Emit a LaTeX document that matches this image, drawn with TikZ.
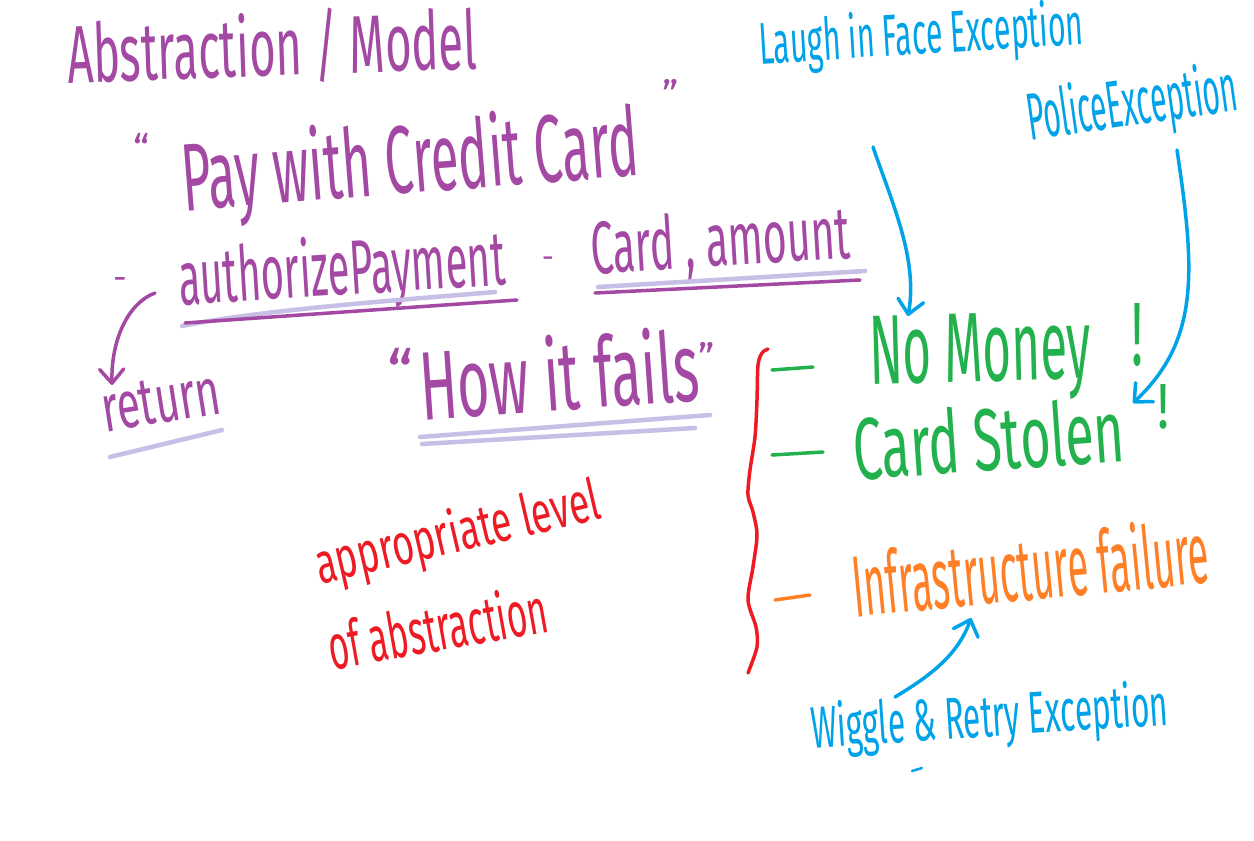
\documentclass[tikz,border=0pt]{standalone}
\usepackage{fontspec}
\setmainfont{Fira Sans}
\usepackage{graphicx}
\usetikzlibrary{arrows.meta}
\definecolor{ppurple}{HTML}{A349A4}
\definecolor{plav}{HTML}{C8BFE7}
\definecolor{pgreen}{HTML}{22B14C}
\definecolor{pred}{HTML}{ED1C24}
\definecolor{porange}{HTML}{FF7F27}
\definecolor{pblue}{HTML}{00A2E8}
\newcommand{\hwfit}[3]{\resizebox{#1pt}{#2pt}{#3}}
\tikzset{
  hw/.style={inner sep=0pt, outer sep=0pt, anchor=base west},
  qmark/.style={inner sep=0pt, outer sep=0pt, anchor=north},
  pen/.style={line width=3.5pt, line cap=round, line join=round},
  hl/.style={line width=4.5pt, line cap=round, draw=plav},
  barb/.style={-{Straight Barb[length=14pt,width=26pt,round]}}
}
\begin{document}
\begin{tikzpicture}[x=1pt,y=-1pt]
\fill[white] (0,0) rectangle (1254,841);
\useasboundingbox (0,0) rectangle (1254,841);

% ---------- purple: abstraction ----------
\node[hw, text=ppurple, rotate=2] (title) at (68,83) {\hwfit{410}{66}{Abstraction / Model}};

\node[qmark, text=ppurple, font=\fontsize{40}{40}\selectfont] (q1) at (142,133) {“};
\node[hw, text=ppurple, rotate=4.5] (pay) at (184,211) {\hwfit{458}{75}{Pay with Credit Card}};
\node[qmark, text=ppurple, font=\fontsize{40}{40}\selectfont] (q2) at (671,79) {”};

\node[text=ppurple, font=\fontsize{34}{34}\selectfont, inner sep=0pt] (dash1) at (120,284) {-};
\node[hw, text=ppurple, rotate=3.5] (auth) at (180,305) {\hwfit{327}{60}{authorizePayment}};
\node[text=ppurple, font=\fontsize{30}{30}\selectfont, inner sep=0pt] (dash2) at (548,262) {-};
\node[hw, text=ppurple, rotate=3.5] (cardamt) at (592,274) {\hwfit{260}{56}{Card , amount}};

\draw[hl] (182,326) .. controls (260,310) and (400,300) .. (495,292);
\draw[pen, ppurple] (185,323) -- (517,300);
\draw[hl] (598,287) -- (865,271);
\draw[pen, ppurple] (595,293) -- (860,280);

\coordinate (retfrom) at (155,293);
\coordinate (retto) at (112,385);
\draw[pen, ppurple, -{Straight Barb[length=14pt,width=24pt,round]}] (retfrom) .. controls (128,303) and (111,340) .. (retto);

\node[hw, text=ppurple, rotate=9] (ret) at (105,432) {\hwfit{120}{44}{return}};
\draw[hl] (110,457) -- (222,430);

\node[qmark, text=ppurple, font=\fontsize{64}{64}\selectfont] (q3) at (400,348) {“};
\node[hw, text=ppurple, rotate=4] (how) at (422,420) {\hwfit{280}{76}{How it fails}};
\node[qmark, text=ppurple, font=\fontsize{40}{40}\selectfont] (q4) at (707,342) {”};
\draw[hl] (420,437) -- (710,415);
\draw[hl] (422,444) -- (695,428);

% ---------- red ----------
\node[hw, text=pred, rotate=13] (appr) at (320,584) {\hwfit{291}{45}{appropriate level}};
\node[hw, text=pred, rotate=10] (abst) at (332,670) {\hwfit{222}{50}{of abstraction}};

\draw[pen, pred] plot[smooth] coordinates {(768,349) (762,353) (758,365) (757,400) (755,437) (750,470) (748,495) (753,512) (757,535) (753,567) (748,600) (756,627) (757,647) (748,673)};

% ---------- green ----------
\draw[pen, pgreen] (772,370) -- (813,367);
\draw[pen, pgreen] (772,455) -- (823,452);
\node[hw, text=pgreen, rotate=1.5] (nomoney) at (870,384) {\hwfit{222}{68}{No Money}};
\node[hw, text=pgreen] (ex1) at (1131,365) {\hwfit{12}{62}{!}};
\node[hw, text=pgreen, rotate=4] (stolen) at (855,480) {\hwfit{272}{66}{Card Stolen}};
\node[hw, text=pgreen] (ex2) at (1157,428) {\hwfit{12}{44}{!}};

% ---------- orange ----------
\draw[pen, porange] (775,600) -- (810,595);
\node[hw, text=porange, rotate=5.5] (infra) at (855,617) {\hwfit{358}{68}{Infrastructure failure}};

% ---------- blue ----------
\node[hw, text=pblue, rotate=3.5] (laugh) at (760,64) {\hwfit{325}{46}{Laugh in Face Exception}};
\node[hw, text=pblue, rotate=8] (police) at (1030,140) {\hwfit{212}{52}{PoliceException}};
\node[hw, text=pblue, rotate=3.7] (wiggle) at (812,748) {\hwfit{358}{46}{Wiggle \& Retry Exception}};

\coordinate (laughfrom) at (873,147);
\coordinate (laughto) at (908,316);
\draw[pen, pblue, barb] (laughfrom) .. controls (893,205) and (918,260) .. (laughto);

\coordinate (policefrom) at (1177,150);
\coordinate (policeto) at (1133,403);
\draw[pen, pblue, barb] (policefrom) .. controls (1195,270) and (1200,340) .. (policeto);

\coordinate (wigglefrom) at (895,697);
\coordinate (wiggleto) at (971,618);
\draw[pen, pblue, barb] (wigglefrom) .. controls (930,676) and (958,655) .. (wiggleto);

\draw[pblue, line width=2.5pt, line cap=round] (912,771) -- (922,768);
\end{tikzpicture}
\end{document}
